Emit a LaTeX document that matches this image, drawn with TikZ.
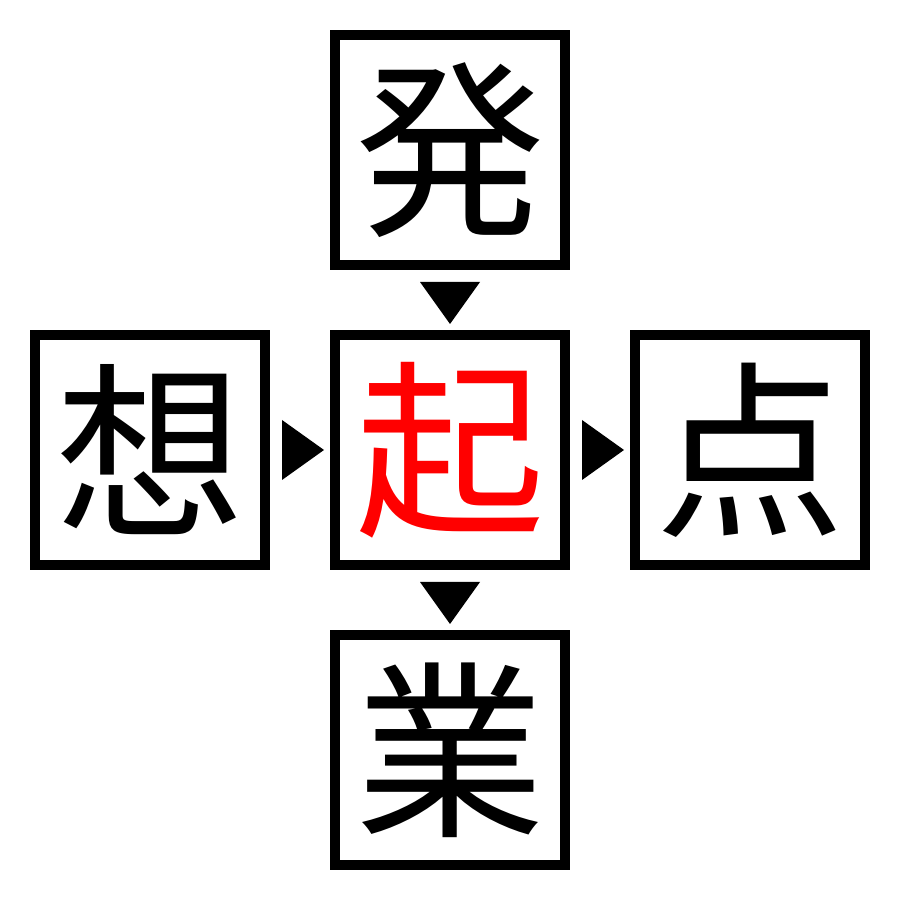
\documentclass[tikz,border=0pt]{standalone}
\usepackage{fontspec}
\usepackage{xcolor}
\usetikzlibrary{positioning,calc}
\newfontfamily\cjk{Noto Sans CJK JP}

\begin{document}
\begin{tikzpicture}[node distance=7mm,
kanji/.style={
rectangle,
draw,
line width=1mm,
minimum size=23mm,
inner sep=0pt,
outer sep=0pt,
font=\cjk\fontsize{54pt}{54pt}\selectfont
},
pointer/.style={fill=black},]

\useasboundingbox (0,0) rectangle (9,9);
\node (mid) [kanji,text=red] at (4.5,4.5) {起};
\node (top) [kanji,above=of mid] {発};
\node (left) [kanji,left=of mid] {想};
\node (right) [kanji,right=of mid] {点};
\node (bot) [kanji,below=of mid] {業};
% pointers between the boxes
\fill[pointer] ($(top.south)+(-0.3,-0.17)$) -- ++(0.6,0) -- ($(mid.north)+(0,0.11)$) -- cycle;
\fill[pointer] ($(mid.south)+(-0.3,-0.17)$) -- ++(0.6,0) -- ($(bot.north)+(0,0.11)$) -- cycle;
\fill[pointer] ($(left.east)+(0.17,0.3)$) -- ++(0,-0.6) -- ($(mid.west)+(-0.11,0)$) -- cycle;
\fill[pointer] ($(mid.east)+(0.17,0.3)$) -- ++(0,-0.6) -- ($(right.west)+(-0.11,0)$) -- cycle;
\end{tikzpicture}
\end{document}
